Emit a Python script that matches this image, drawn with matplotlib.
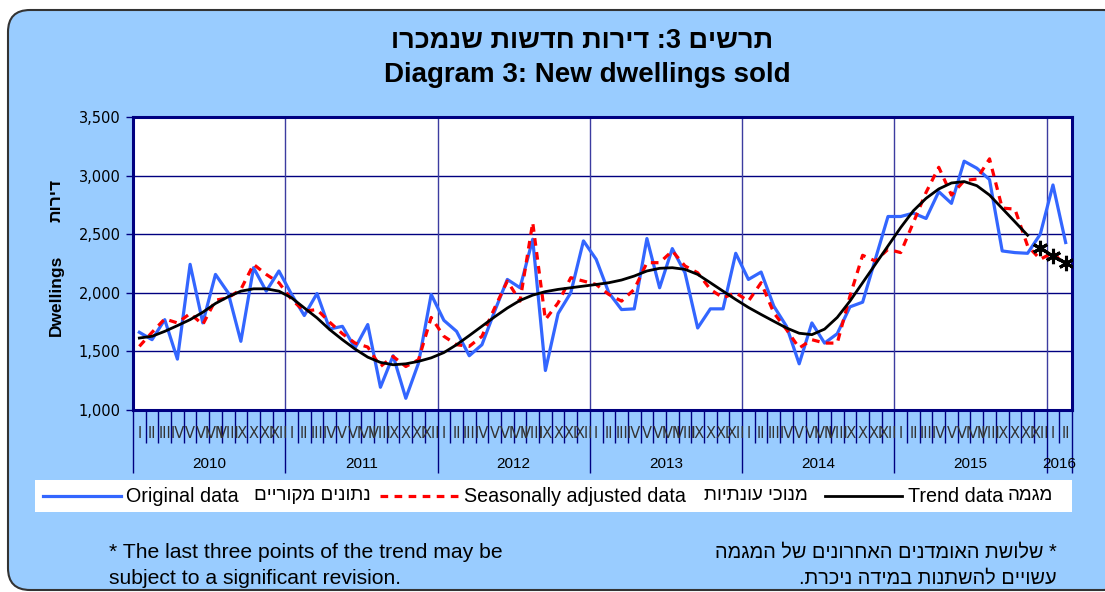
import matplotlib
matplotlib.use('Agg')
import matplotlib.pyplot as plt
from matplotlib.patches import FancyBboxPatch, Rectangle
from matplotlib.lines import Line2D
import numpy as np

plt.rcParams['font.family'] = ['Liberation Sans', 'DejaVu Sans']

# נתונים חודשיים: ינואר 2010 עד פברואר 2016
years = ['2010', '2011', '2012', '2013', '2014', '2015', '2016']
months = ['I', 'II', 'III', 'IV', 'V', 'VI', 'VII', 'VIII', 'IX', 'X', 'XI', 'XII']

original = [1663, 1600, 1771, 1434, 2243, 1743, 2157, 2000, 1586, 2214, 2014, 2186,
            1986, 1806, 1994, 1691, 1714, 1529, 1729, 1194, 1463, 1100, 1400, 1986,
            1765, 1671, 1463, 1557, 1843, 2114, 2043, 2457, 1337, 1823, 2000, 2443,
            2286, 2000, 1857, 1863, 2463, 2043, 2377, 2171, 1700, 1863, 1863, 2337,
            2114, 2177, 1886, 1714, 1394, 1743, 1571, 1651, 1880, 1920, 2286, 2651,
            2651, 2680, 2634, 2863, 2763, 3123, 3063, 2966, 2357, 2343, 2337, 2500,
            2920, 2429]

seasonal = [1543, 1663, 1777, 1743, 1823, 1729, 1937, 1957, 2029, 2243, 2157, 2086,
            1943, 1843, 1857, 1749, 1651, 1571, 1537, 1371, 1457, 1371, 1429, 1790,
            1629, 1557, 1543, 1629, 1871, 2100, 1929, 2600, 1771, 1914, 2129, 2100,
            2071, 1986, 1929, 2029, 2257, 2257, 2357, 2229, 2171, 2029, 1957, 2000,
            1929, 2086, 1829, 1686, 1529, 1600, 1571, 1571, 1971, 2320, 2271, 2371,
            2343, 2600, 2857, 3071, 2834, 2957, 2971, 3143, 2723, 2714, 2400, 2286,
            2343, 2229]

trend = [1614, 1629, 1671, 1720, 1771, 1834, 1909, 1966, 2014, 2034, 2034, 2014,
         1957, 1871, 1786, 1686, 1600, 1520, 1451, 1406, 1386, 1394, 1415, 1445,
         1490, 1557, 1635, 1715, 1795, 1870, 1935, 1980, 2010, 2029, 2043, 2057,
         2071, 2086, 2109, 2143, 2186, 2209, 2214, 2200, 2157, 2086, 2014, 1943,
         1875, 1815, 1757, 1700, 1655, 1643, 1690, 1790, 1929, 2086, 2243, 2400,
         2557, 2700, 2806, 2886, 2937, 2949, 2914, 2834, 2720, 2606, 2491]

# שלושת האומדנים האחרונים של המגמה
trend_last = [2386, 2314, 2251]


def heb(s):
    # matplotlib אינו מבצע bidi - הופכים את סדר התווים לתצוגה
    return s[::-1]


navy = '#000080'
bg = '#99CCFF'

fig = plt.figure(figsize=(11.05, 5.92), dpi=100)
fig.patch.set_facecolor('white')


def fx(px):
    return px / 1105.0


def fy(py):
    return 1 - py / 592.0


# רקע מעוגל
box = FancyBboxPatch((8 / 100, (592 - 590) / 100), (1125 - 8) / 100, (590 - 10) / 100,
                     boxstyle='round,pad=0,rounding_size=0.22',
                     transform=fig.dpi_scale_trans, facecolor=bg,
                     edgecolor='#333333', linewidth=1.5, zorder=-10)
fig.patches.append(box)

# כותרות
fig.text(fx(582), fy(41), heb('תרשים 3: דירות חדשות שנמכרו'), ha='center', va='center',
         fontsize=19.5, fontweight='bold')
fig.text(fx(587), fy(75), 'Diagram 3: New dwellings sold', ha='center', va='center',
         fontsize=20, fontweight='bold')

ax = fig.add_axes([fx(133), fy(410), fx(1072) - fx(133), fy(117) - fy(410)])
ax.set_facecolor('white')

n = len(original)
x = np.arange(n) + 0.5

ax.plot(x, original, color='#3366FF', lw=2.3, zorder=3)
ax.plot(x, seasonal, color='#FF0000', lw=2.3, ls=(0, (2.4, 2.0)), zorder=4)
ax.plot(x[:len(trend)], trend, color='black', lw=2.0, zorder=5)
ax.plot(x[len(trend):], trend_last, color='black', lw=2.0, marker=(6, 2, 0),
        markersize=11, markeredgewidth=2.2, zorder=6)

ax.set_xlim(0, n)
ax.set_ylim(1000, 3500)
ax.set_yticks(np.arange(1000, 3501, 500))
ax.set_yticklabels(['{:,}'.format(v) for v in range(1000, 3501, 500)],
                   fontsize=10.5, family='DejaVu Sans')
ax.yaxis.grid(True, color=navy, lw=1)
ax.set_axisbelow(True)
for k in range(1, len(years)):
    ax.axvline(12 * k, color='#3c3ca0', lw=1, zorder=1)

for sp in ax.spines.values():
    sp.set_color(navy)
    sp.set_linewidth(2.2)

ax.tick_params(axis='y', colors=navy, length=5, width=1, labelcolor='black', pad=4)

major = list(range(0, n, 12)) + [n]
minor = [m for m in range(1, n) if m % 12 != 0]
ax.set_xticks(major)
ax.set_xticks(minor, minor=True)
ax.set_xticklabels([])
ax.tick_params(axis='x', which='major', length=45, width=1, color=navy)
ax.tick_params(axis='x', which='minor', length=24, width=1, color=navy)

trans = ax.get_xaxis_transform()
for i in range(n):
    ax.text(i + 0.5, -0.08, months[i % 12], transform=trans, ha='center', va='center',
            fontsize=10.5, color='#333333', family='DejaVu Sans', clip_on=False)
for k, yr in enumerate(years):
    xc = 12 * k + 6 if 12 * k + 12 <= n else (12 * k + n) / 2
    ax.text(xc, -0.185, yr, transform=trans, ha='center', va='center', fontsize=11,
            clip_on=False)

# כותרת ציר Y
fig.text(fx(56), fy(295), 'Dwellings', rotation=90, ha='center', va='center',
         fontsize=12.5, fontweight='bold')
fig.text(fx(56), fy(200), heb('דירות'), rotation=90, ha='center', va='center',
         fontsize=12.5, fontweight='bold')

# מקרא
fig.patches.append(Rectangle((fx(35), fy(512)), fx(1072) - fx(35), fy(480) - fy(512),
                             transform=fig.transFigure, facecolor='white',
                             edgecolor='none', zorder=1))
ly = fy(496)
fig.lines.append(Line2D([fx(43), fx(121)], [ly, ly], transform=fig.transFigure,
                        color='#3366FF', lw=2.3, zorder=2))
fig.lines.append(Line2D([fx(380), fx(461)], [ly, ly], transform=fig.transFigure,
                        color='#FF0000', lw=2.3, ls=(0, (2.4, 2.0)), zorder=2))
fig.lines.append(Line2D([fx(825), fx(902)], [ly, ly], transform=fig.transFigure,
                        color='black', lw=2.0, zorder=2))
legend_texts = [(126, 'Original data', 14.2), (254, heb('נתונים מקוריים'), 13.5),
                (464, 'Seasonally adjusted data', 14.2), (704, heb('מנוכי עונתיות'), 13.5),
                (908, 'Trend data', 14.2), (1008, heb('מגמה'), 13.5)]
for px, t, fs in legend_texts:
    fig.text(fx(px), ly, t, ha='left', va='center', fontsize=fs)

# הערות שוליים
fig.text(fx(109), fy(552), '* The last three points of the trend may be',
         ha='left', va='center', fontsize=15.2)
fig.text(fx(109), fy(578), 'subject to a significant revision.',
         ha='left', va='center', fontsize=15.2)
fig.text(fx(1057), fy(552), heb('* שלושת האומדנים האחרונים של המגמה'),
         ha='right', va='center', fontsize=14.3)
fig.text(fx(1057), fy(578), heb('עשויים להשתנות במידה ניכרת.'),
         ha='right', va='center', fontsize=14.3)

fig.savefig('out.png', dpi=100, facecolor=fig.get_facecolor())
